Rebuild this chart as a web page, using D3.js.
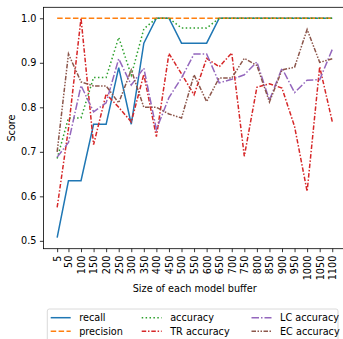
<!DOCTYPE html>
<html>
<head>
<meta charset="utf-8">
<script src="https://cdn.jsdelivr.net/npm/d3@7"></script>
<style>
  body { margin: 0; background: #fff; }
  svg { font-family: "DejaVu Sans", sans-serif; }
</style>
</head>
<body>
<script>
// buffer sizes on the x axis
const sizes = [5, 50, 100, 150, 200, 250, 300, 350, 400, 450, 500, 550, 600, 650, 700, 750, 800, 850, 900, 950, 1000, 1050, 1100];

const recall     = [0.507, 0.635, 0.635, 0.762, 0.762, 0.889, 0.762, 0.944, 1.0, 1.0, 0.944, 0.944, 0.944, 1.0, 1.0, 1.0, 1.0, 1.0, 1.0, 1.0, 1.0, 1.0, 1.0];
const precision  = [1.0, 1.0, 1.0, 1.0, 1.0, 1.0, 1.0, 1.0, 1.0, 1.0, 1.0, 1.0, 1.0, 1.0, 1.0, 1.0, 1.0, 1.0, 1.0, 1.0, 1.0, 1.0, 1.0];
const accuracy   = [0.685, 0.776, 0.776, 0.867, 0.867, 0.957, 0.872, 0.976, 1.0, 1.0, 0.978, 0.978, 0.978, 1.0, 1.0, 1.0, 1.0, 1.0, 1.0, 1.0, 1.0, 1.0, 1.0];
const trAccuracy = [0.575, 0.752, 1.0, 0.716, 0.83, 0.80, 0.767, 0.874, 0.734, 0.921, 0.875, 0.828, 0.91, 0.891, 0.922, 0.69, 0.845, 0.853, 0.843, 0.757, 0.611, 0.891, 0.768];
const lcAccuracy = [0.688, 0.721, 0.849, 0.79, 0.81, 0.909, 0.85, 0.888, 0.75, 0.822, 0.866, 0.92, 0.92, 0.855, 0.863, 0.873, 0.902, 0.816, 0.888, 0.833, 0.861, 0.862, 0.93];
const ecAccuracy = [0.70, 0.92, 0.857, 0.848, 0.848, 0.81, 0.884, 0.80, 0.80, 0.785, 0.776, 0.873, 0.813, 0.866, 0.866, 0.91, 0.894, 0.812, 0.884, 0.89, 0.975, 0.901, 0.909];

const yTicks = [0.5, 0.6, 0.7, 0.8, 0.9, 1.0];

const series = [
  { name: "recall",      values: recall,     color: "#1f77b4", dash: null },
  { name: "precision",   values: precision,  color: "#ff7f0e", dash: "5.5,2.4" },
  { name: "accuracy",    values: accuracy,   color: "#2ca02c", dash: "1.5,2.4" },
  { name: "TR accuracy", values: trAccuracy, color: "#d62728", dash: "4.5,1.8,1.5,1.8" },
  { name: "LC accuracy", values: lcAccuracy, color: "#9467bd", dash: "7.5,2,1.5,2" },
  { name: "EC accuracy", values: ecAccuracy, color: "#8c564b", dash: "4.5,1.5,1.5,1.5,1.5,1.5" }
];

const W = 343, H = 339;
const mLeft = 43.4, mRight = 346, mTop = 7.3, mBottom = 248.7;
const fs = 9.7;

const svg = d3.select("body").append("svg")
  .attr("width", W)
  .attr("height", H);

// matplotlib style 5% margins
const xPad = (1100 - 5) * 0.05;
const x = d3.scaleLinear().domain([5 - xPad, 1100 + xPad]).range([mLeft, mRight]);
const yPad = (1.0 - 0.507) * 0.05;
const y = d3.scaleLinear().domain([0.507 - yPad, 1.0 + yPad]).range([mBottom, mTop]);

const line = d3.line()
  .x((d, i) => x(sizes[i]))
  .y(d => y(d));

const g = svg.append("g");
g.append("clipPath").attr("id", "clip")
  .append("rect").attr("x", mLeft).attr("y", mTop).attr("width", mRight - mLeft).attr("height", mBottom - mTop);

const plot = g.append("g").attr("clip-path", "url(#clip)");
series.forEach(s => {
  plot.append("path")
    .datum(s.values)
    .attr("fill", "none")
    .attr("stroke", s.color)
    .attr("stroke-width", 1.5)
    .attr("stroke-dasharray", s.dash)
    .attr("d", line);
});

// frame
g.append("rect")
  .attr("x", mLeft).attr("y", mTop)
  .attr("width", mRight - mLeft).attr("height", mBottom - mTop)
  .attr("fill", "none").attr("stroke", "#000").attr("stroke-width", 0.8);

// x axis
const xAxis = g.append("g")
  .attr("transform", "translate(0," + mBottom + ")")
  .call(d3.axisBottom(x).tickValues(sizes).tickSize(3.5).tickFormat(d3.format("d")));
xAxis.select(".domain").remove();
xAxis.selectAll("line").attr("stroke-width", 0.8);
xAxis.selectAll("text")
  .attr("font-size", fs)
  .attr("font-family", "DejaVu Sans")
  .attr("fill", "#000")
  .attr("text-anchor", "end")
  .attr("y", 0).attr("x", 0).attr("dy", "0.35em")
  .attr("transform", "translate(0,7) rotate(-90)");

// y axis
const yAxis = g.append("g")
  .attr("transform", "translate(" + mLeft + ",0)")
  .call(d3.axisLeft(y).tickValues(yTicks).tickSize(3.5).tickPadding(3.5).tickFormat(d3.format(".1f")));
yAxis.select(".domain").remove();
yAxis.selectAll("line").attr("stroke-width", 0.8);
yAxis.selectAll("text")
  .attr("font-size", fs)
  .attr("font-family", "DejaVu Sans")
  .attr("fill", "#000");

// axis labels
svg.append("text")
  .attr("x", (mLeft + mRight) / 2)
  .attr("y", 288.5)
  .attr("dy", "0.35em")
  .attr("text-anchor", "middle")
  .attr("font-size", fs)
  .text("Size of each model buffer");

svg.append("text")
  .attr("transform", "translate(12," + (mTop + mBottom) / 2 + ") rotate(-90)")
  .attr("dy", "0.35em")
  .attr("text-anchor", "middle")
  .attr("font-size", fs)
  .text("Score");

// legend, 3 columns x 2 rows, filled column by column
const legend = svg.append("g");
legend.append("rect")
  .attr("x", 47.3).attr("y", 309)
  .attr("width", 290.7).attr("height", 40)
  .attr("rx", 2)
  .attr("fill", "#fff").attr("fill-opacity", 0.8)
  .attr("stroke", "#d0d0d0").attr("stroke-width", 0.8);

const colX = [50.7, 141.7, 251.5];
const rowY = [317.7, 331.2];
series.forEach((s, i) => {
  const cx = colX[Math.floor(i / 2)], cy = rowY[i % 2];
  legend.append("line")
    .attr("x1", cx).attr("x2", cx + 20)
    .attr("y1", cy).attr("y2", cy)
    .attr("stroke", s.color)
    .attr("stroke-width", 1.5)
    .attr("stroke-dasharray", s.dash);
  legend.append("text")
    .attr("x", cx + 28.5).attr("y", cy)
    .attr("dy", "0.35em")
    .attr("font-size", fs)
    .text(s.name);
});
</script>
</body>
</html>
